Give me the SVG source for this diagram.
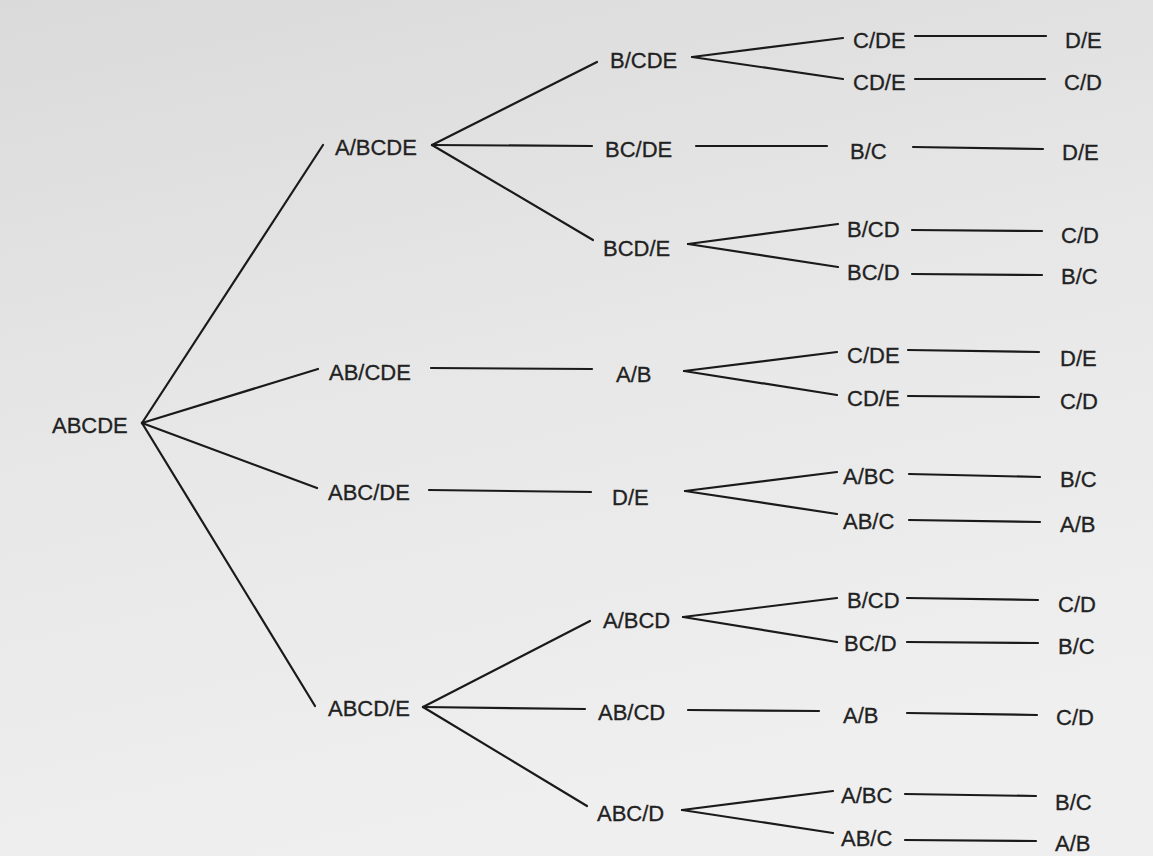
<svg xmlns="http://www.w3.org/2000/svg" width="1153" height="856" viewBox="0 0 1153 856">
<defs>
<linearGradient id="bg" x1="0" y1="0" x2="0.3" y2="1">
<stop offset="0" stop-color="#dadada"/>
<stop offset="0.5" stop-color="#e7e7e7"/>
<stop offset="1" stop-color="#efefef"/>
</linearGradient>
<style>
text{font-family:"Liberation Sans",Arial,Helvetica,sans-serif;font-size:22px;fill:#222;stroke:#222;stroke-width:0.3}
.c line{stroke:#1a1a1a;stroke-width:2.2;stroke-linecap:round}
</style>
</defs>
<rect width="1153" height="856" fill="url(#bg)"/>
<g class="c" id="connectors">
<line x1="142" y1="423" x2="323" y2="145"/>
<line x1="142" y1="423" x2="318" y2="369"/>
<line x1="142" y1="423" x2="317" y2="488"/>
<line x1="142" y1="423" x2="315" y2="706"/>
<line x1="432" y1="145" x2="597" y2="62"/>
<line x1="432" y1="145" x2="592" y2="146"/>
<line x1="432" y1="145" x2="593" y2="240"/>
<line x1="431" y1="368" x2="592" y2="369"/>
<line x1="429" y1="490" x2="591" y2="492"/>
<line x1="423" y1="707" x2="590" y2="621"/>
<line x1="423" y1="707" x2="585" y2="709"/>
<line x1="423" y1="707" x2="587" y2="806"/>
<line x1="692" y1="57" x2="843" y2="38"/>
<line x1="692" y1="57" x2="843" y2="79"/>
<line x1="696" y1="146" x2="827" y2="146"/>
<line x1="688" y1="244" x2="838" y2="224"/>
<line x1="688" y1="244" x2="838" y2="267"/>
<line x1="684" y1="371" x2="837" y2="352"/>
<line x1="684" y1="371" x2="837" y2="395"/>
<line x1="685" y1="491" x2="837" y2="472"/>
<line x1="685" y1="491" x2="837" y2="514"/>
<line x1="683" y1="617" x2="837" y2="598"/>
<line x1="683" y1="617" x2="837" y2="642"/>
<line x1="688" y1="710" x2="819" y2="711"/>
<line x1="682" y1="810" x2="833" y2="791"/>
<line x1="682" y1="810" x2="833" y2="833"/>
<line x1="915" y1="36" x2="1046" y2="36"/>
<line x1="915" y1="79" x2="1045" y2="79"/>
<line x1="913" y1="147" x2="1043" y2="149"/>
<line x1="912" y1="230" x2="1042" y2="231"/>
<line x1="912" y1="274" x2="1042" y2="275"/>
<line x1="908" y1="350" x2="1039" y2="352"/>
<line x1="908" y1="396" x2="1039" y2="397"/>
<line x1="909" y1="474" x2="1040" y2="477"/>
<line x1="909" y1="520" x2="1040" y2="522"/>
<line x1="907" y1="598" x2="1038" y2="600"/>
<line x1="907" y1="642" x2="1038" y2="643"/>
<line x1="907" y1="713" x2="1037" y2="715"/>
<line x1="905" y1="794" x2="1036" y2="796"/>
<line x1="905" y1="840" x2="1036" y2="841"/>
</g>
<g id="n-root"><text x="52" y="433">ABCDE</text></g>
<g id="n-a-bcde"><text x="335" y="155">A/BCDE</text></g>
<g id="n-ab-cde"><text x="329" y="380">AB/CDE</text></g>
<g id="n-abc-de"><text x="328" y="500">ABC/DE</text></g>
<g id="n-abcd-e"><text x="328" y="716">ABCD/E</text></g>
<g id="n-b-cde"><text x="610" y="68">B/CDE</text></g>
<g id="n-bc-de"><text x="605" y="157">BC/DE</text></g>
<g id="n-bcd-e"><text x="603" y="256">BCD/E</text></g>
<g id="n-a-b-1"><text x="616" y="382">A/B</text></g>
<g id="n-d-e-1"><text x="612" y="505">D/E</text></g>
<g id="n-a-bcd"><text x="603" y="628">A/BCD</text></g>
<g id="n-ab-cd"><text x="598" y="720">AB/CD</text></g>
<g id="n-abc-d"><text x="597" y="821">ABC/D</text></g>
<g id="n-c-de-1"><text x="853" y="48">C/DE</text></g>
<g id="n-cd-e-1"><text x="853" y="90">CD/E</text></g>
<g id="n-b-c-1"><text x="850" y="159">B/C</text></g>
<g id="n-b-cd-1"><text x="847" y="237">B/CD</text></g>
<g id="n-bc-d-1"><text x="847" y="280">BC/D</text></g>
<g id="n-c-de-2"><text x="847" y="363">C/DE</text></g>
<g id="n-cd-e-2"><text x="847" y="406">CD/E</text></g>
<g id="n-a-bc-1"><text x="843" y="484">A/BC</text></g>
<g id="n-ab-c-1"><text x="843" y="529">AB/C</text></g>
<g id="n-b-cd-2"><text x="847" y="608">B/CD</text></g>
<g id="n-bc-d-2"><text x="844" y="651">BC/D</text></g>
<g id="n-a-b-2"><text x="843" y="723">A/B</text></g>
<g id="n-a-bc-2"><text x="841" y="803">A/BC</text></g>
<g id="n-ab-c-2"><text x="841" y="846">AB/C</text></g>
<g id="n-l1"><text x="1065" y="48">D/E</text></g>
<g id="n-l2"><text x="1064" y="90">C/D</text></g>
<g id="n-l3"><text x="1062" y="160">D/E</text></g>
<g id="n-l4"><text x="1061" y="243">C/D</text></g>
<g id="n-l5"><text x="1061" y="284">B/C</text></g>
<g id="n-l6"><text x="1060" y="366">D/E</text></g>
<g id="n-l7"><text x="1060" y="409">C/D</text></g>
<g id="n-l8"><text x="1060" y="487">B/C</text></g>
<g id="n-l9"><text x="1060" y="532">A/B</text></g>
<g id="n-l10"><text x="1058" y="612">C/D</text></g>
<g id="n-l11"><text x="1058" y="654">B/C</text></g>
<g id="n-l12"><text x="1056" y="725">C/D</text></g>
<g id="n-l13"><text x="1055" y="810">B/C</text></g>
<g id="n-l14"><text x="1055" y="851">A/B</text></g>
</svg>
